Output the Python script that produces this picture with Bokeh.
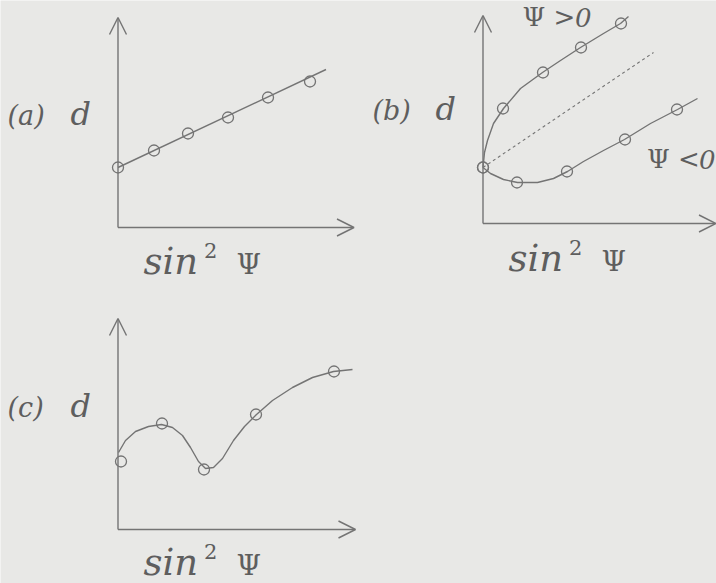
from bokeh.plotting import figure
from bokeh.models import Range1d, Arrow, OpenHead, Label
from bokeh.embed import file_html
from bokeh.resources import INLINE

# ---------------- data (sin^2 psi on x, lattice spacing d on y, arbitrary units) ----
# (a) linear behaviour
a_sin2 = [0.0, 0.18, 0.35, 0.55, 0.75, 0.96]
a_d = [0.30, 0.385, 0.47, 0.55, 0.65, 0.73]
a_fit_sin2 = [0.0, 1.04]
a_fit_d = [0.30, 0.79]

# (b) psi splitting: psi > 0 branch, psi < 0 branch, mean (dotted)
b_pos_sin2 = [0.0, 0.10, 0.30, 0.49, 0.69]
b_pos_d = [0.28, 0.575, 0.755, 0.88, 1.00]
b_neg_sin2 = [0.0, 0.17, 0.42, 0.71, 0.97]
b_neg_d = [0.28, 0.205, 0.26, 0.42, 0.57]
b_pos_curve_sin2 = [0.0, 0.0075, 0.0225, 0.0525, 0.1025, 0.1875, 0.2975, 0.3875,
                    0.4875, 0.6025, 0.6875, 0.7275]
b_pos_curve_d = [0.28, 0.355, 0.415, 0.50, 0.575, 0.675, 0.755, 0.815,
                 0.88, 0.95, 1.00, 1.035]
b_neg_curve_sin2 = [0.0, 0.0375, 0.1025, 0.1725, 0.2725, 0.3525, 0.4225, 0.5025,
                    0.6025, 0.7075, 0.8375, 0.9725, 1.0725]
b_neg_curve_d = [0.28, 0.25, 0.22, 0.205, 0.205, 0.225, 0.26, 0.31,
                 0.365, 0.42, 0.50, 0.57, 0.625]
b_mean_sin2 = [0.0, 0.8525]
b_mean_d = [0.28, 0.855]

# (c) oscillating behaviour
c_sin2 = [0.015, 0.22, 0.43, 0.69, 1.08]
c_d = [0.34, 0.53, 0.30, 0.575, 0.79]
c_curve_sin2 = [0.0025, 0.0375, 0.0875, 0.1525, 0.2175, 0.2725, 0.3225, 0.3625,
                0.4025, 0.4375, 0.4775, 0.5225, 0.5775, 0.6325, 0.6925, 0.7725,
                0.8725, 0.9725, 1.0775, 1.1725]
c_curve_d = [0.385, 0.445, 0.49, 0.515, 0.525, 0.51, 0.47, 0.41,
             0.34, 0.305, 0.31, 0.355, 0.445, 0.515, 0.575, 0.645,
             0.71, 0.76, 0.79, 0.80]

# ---------------- style ----------------
W, H = 716, 583
BG = "#e8e8e6"
LINE = "#747474"
TEXT = "#5e5e5e"
SERIF = "DejaVu Serif"
PX = 200.0  # screen pixels per data unit

p = figure(width=W, height=H, output_backend="svg", toolbar_location=None,
           x_axis_type=None, y_axis_type=None,
           x_range=Range1d(0, 1), y_range=Range1d(0, 1),
           min_border=0, background_fill_color=BG, border_fill_color=BG,
           outline_line_color=None)


def add_panel(name, ox, oy):
    """Register a pair of ranges whose data origin sits at pixel (ox, oy)."""
    p.extra_x_ranges[name] = Range1d(-ox / PX, (W - ox) / PX)
    p.extra_y_ranges[name] = Range1d(-(H - oy) / PX, oy / PX)
    return dict(x_range_name=name, y_range_name=name)


def axes(r, x_len, y_len):
    for xe, ye in ((x_len, 0), (0, y_len)):
        p.add_layout(Arrow(x_start=0, y_start=0, x_end=xe, y_end=ye,
                           line_color=LINE, line_width=1.4,
                           end=OpenHead(size=17, line_color=LINE, line_width=1.4),
                           **r))


def text(r, x, y, s, size, style="italic"):
    # the SVG label sits its baseline about 0.36 em low; lift it back
    lift = 0.36 * size / PX
    p.add_layout(Label(x=x, y=y + lift, text=s, text_font=SERIF,
                       text_font_size=f"{size}px", text_font_style=style,
                       text_color=TEXT, text_baseline="alphabetic",
                       text_align="left", **r))


def labels(r, tag, lab_y, sin_y):
    text(r, -0.5525, lab_y, tag, 27)
    text(r, -0.2375, lab_y, "d", 32)
    text(r, 0.1275, sin_y, "sin", 37)
    text(r, 0.43, sin_y + 0.08, "2", 21, "normal")
    text(r, 0.5925, sin_y, "Ψ", 28, "normal")


def circles(r, xs, ys):
    p.scatter(xs, ys, marker="circle", size=11, fill_color=None,
              line_color=LINE, line_width=1.3, **r)


# (a)
ra = add_panel("a", 117.5, 227)
axes(ra, 1.18, 1.05)
p.line(a_fit_sin2, a_fit_d, line_color=LINE, line_width=1.4, **ra)
circles(ra, a_sin2, a_d)
labels(ra, "(a)", 0.51, -0.235)

# (b)
rb = add_panel("b", 482.5, 223)
axes(rb, 1.165, 1.04)
p.line(b_mean_sin2, b_mean_d, line_color=LINE, line_width=1.1, line_dash="3 3", **rb)
p.line(b_pos_curve_sin2, b_pos_curve_d, line_color=LINE, line_width=1.4, **rb)
p.line(b_neg_curve_sin2, b_neg_curve_d, line_color=LINE, line_width=1.4, **rb)
circles(rb, b_pos_sin2, b_pos_d)
circles(rb, b_neg_sin2, b_neg_d)
labels(rb, "(b)", 0.515, -0.24)
text(rb, 0.1975, 0.985, "Ψ >", 26, "normal")
text(rb, 0.46, 0.985, "0", 26)
text(rb, 0.82, 0.275, "Ψ <", 26, "normal")
text(rb, 1.08, 0.275, "0", 26)

# (c)
rc = add_panel("c", 117.5, 529)
axes(rc, 1.1875, 1.055)
p.line(c_curve_sin2, c_curve_d, line_color=LINE, line_width=1.4, **rc)
circles(rc, c_sin2, c_d)
labels(rc, "(c)", 0.56, -0.23)

open("out.html", "w").write(file_html(p, INLINE))
